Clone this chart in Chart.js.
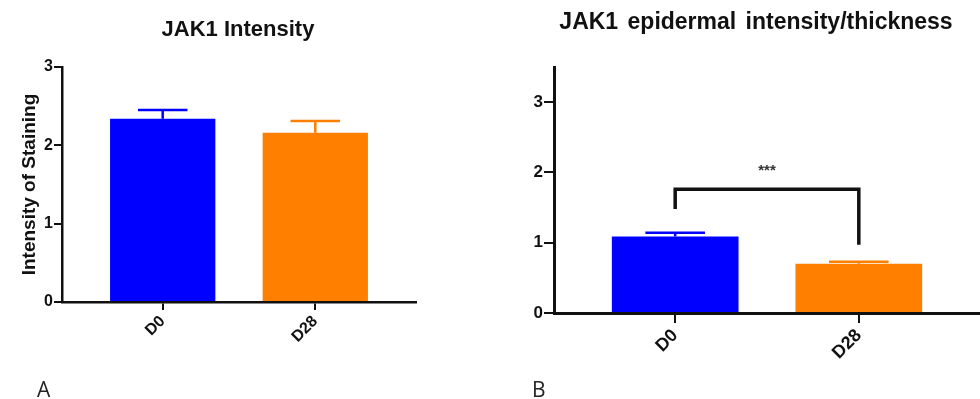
<!DOCTYPE html>
<html>
<head>
<meta charset="utf-8">
<script src="https://cdn.jsdelivr.net/npm/chart.js@4.4.1/dist/chart.umd.min.js"></script>
<style>
  html, body { margin: 0; padding: 0; background: #fff; }
  #wrap { position: relative; width: 980px; height: 399px; overflow: hidden; font-family: "Liberation Sans", Arial, sans-serif; }
  .panel { position: absolute; top: 0; width: 490px; height: 399px; }
  .title { position: absolute; font-weight: bold; color: #111; white-space: nowrap; transform: translateX(-50%); }
  .letter { position: absolute; font-family: "Open Sans", "Noto Sans", sans-serif; font-size: 21px; color: #222; }
</style>
</head>
<body>
<div id="wrap">
  <div class="panel" style="left:0"><canvas id="chartA" width="490" height="399"></canvas></div>
  <div class="panel" style="left:490px"><canvas id="chartB" width="490" height="399"></canvas></div>
  <div class="title" id="titleA" style="left:238px; top:16px; font-size:22px;">JAK1 Intensity</div>
  <div class="title" id="titleB" style="left:756px; top:8px; font-size:23px; word-spacing:3px;">JAK1 epidermal intensity/thickness</div>
  <div class="letter" style="left:37px; top:375px;">A</div>
  <div class="letter" style="left:532px; top:375px;">B</div>
</div>
<script>
// 数据
const categories = ['D0', 'D28'];
const barColors = ['#0000ff', '#ff8000'];

const intensityMeans = [2.34, 2.16];
const intensityErr = [0.11, 0.15];
const intensityTicks = [0, 1, 2, 3];

const ratioMeans = [1.09, 0.70];
const ratioErr = [0.05, 0.03];
const ratioTicks = [0, 1, 2, 3];

// 显著性标记 (B)
const sigLevel = 1.76;
const sigLegs = [1.48, 0.97];
const sigLabel = '***';
const sigLabelLevel = 2.02;

// 误差线插件
const errorBarPlugin = {
  id: 'errorBars',
  afterDatasetsDraw(chart, args, opts) {
    const ctx = chart.ctx;
    const meta = chart.getDatasetMeta(0);
    const y = chart.scales.y;
    ctx.save();
    meta.data.forEach((bar, i) => {
      const top = y.getPixelForValue(opts.means[i] + opts.errors[i]);
      const half = bar.width * opts.capRatio / 2;
      ctx.strokeStyle = opts.colors[i];
      ctx.lineWidth = opts.lineWidth;
      ctx.beginPath();
      ctx.moveTo(bar.x, bar.y);
      ctx.lineTo(bar.x, top);
      ctx.moveTo(bar.x - half, top);
      ctx.lineTo(bar.x + half, top);
      ctx.stroke();
    });
    ctx.restore();
  }
};

// 显著性括号插件
const bracketPlugin = {
  id: 'sigBracket',
  afterDatasetsDraw(chart, args, opts) {
    if (!opts || !opts.show) return;
    const ctx = chart.ctx;
    const x = chart.scales.x;
    const y = chart.scales.y;
    const x1 = x.getPixelForValue(1);
    const x2 = x.getPixelForValue(2);
    const yTop = y.getPixelForValue(opts.level);
    ctx.save();
    ctx.strokeStyle = '#111';
    ctx.lineWidth = 3.5;
    ctx.lineJoin = 'miter';
    ctx.beginPath();
    ctx.moveTo(x1, y.getPixelForValue(opts.legs[0]));
    ctx.lineTo(x1, yTop);
    ctx.lineTo(x2, yTop);
    ctx.lineTo(x2, y.getPixelForValue(opts.legs[1]));
    ctx.stroke();
    ctx.fillStyle = '#333';
    ctx.font = 'bold 15px "Liberation Sans", Arial, sans-serif';
    ctx.textAlign = 'center';
    ctx.textBaseline = 'middle';
    ctx.fillText(opts.label, (x1 + x2) / 2, y.getPixelForValue(opts.labelLevel));
    ctx.restore();
  }
};

function makeChart(canvasId, cfg) {
  const points = cfg.means.map((v, i) => ({ x: i + 1, y: v }));
  return new Chart(document.getElementById(canvasId), {
    type: 'bar',
    data: {
      datasets: [{
        data: points,
        backgroundColor: barColors,
        borderColor: barColors,
        borderWidth: 0,
        categoryPercentage: 1,
        barPercentage: 0.69
      }]
    },
    options: {
      responsive: false,
      animation: false,
      events: [],
      layout: { padding: cfg.padding },
      plugins: {
        legend: { display: false },
        tooltip: { enabled: false },
        errorBars: { means: cfg.means, errors: cfg.errors, colors: barColors, capRatio: 0.47, lineWidth: 2.5 },
        sigBracket: cfg.bracket || { show: false }
      },
      scales: {
        x: {
          type: 'linear',
          offset: false,
          min: 0.34,
          max: 2.66,
          afterBuildTicks: s => { s.ticks = categories.map((c, i) => ({ value: i + 1 })); },
          afterFit: s => { s.height = 60; },
          ticks: {
            callback: (v) => categories[Math.round(v) - 1],
            minRotation: 45,
            maxRotation: 45,
            padding: 2,
            color: '#111',
            font: { family: '"Liberation Sans", Arial, sans-serif', size: cfg.xFont, weight: 'bold' }
          },
          grid: { offset: false, drawOnChartArea: false, drawTicks: true, tickLength: cfg.tickLen, color: '#111', lineWidth: 2 },
          border: { display: true, color: '#111', width: cfg.axisWidth }
        },
        y: {
          min: 0,
          max: cfg.yMax,
          afterBuildTicks: s => { s.ticks = cfg.yTicks.map(v => ({ value: v })); },
          afterFit: s => { s.width = cfg.yWidth; },
          ticks: {
            padding: 1,
            color: '#111',
            font: { family: '"Liberation Sans", Arial, sans-serif', size: cfg.yFont, weight: 'bold' }
          },
          grid: { drawOnChartArea: false, drawTicks: true, tickLength: cfg.tickLen, color: '#111', lineWidth: 2 },
          border: { display: true, color: '#111', width: cfg.axisWidth },
          title: cfg.yTitle ? {
            display: true,
            text: cfg.yTitle,
            color: '#111',
            padding: { top: 18, bottom: 0 },
            font: { family: '"Liberation Sans", Arial, sans-serif', size: 19, weight: 'bold' }
          } : { display: false }
        }
      }
    },
    plugins: [errorBarPlugin, bracketPlugin]
  });
}

makeChart('chartA', {
  means: intensityMeans,
  errors: intensityErr,
  yTicks: intensityTicks,
  yMax: 3,
  yTitle: 'Intensity of Staining',
  yWidth: 62,
  padding: { left: 0, right: 74, top: 67, bottom: 37 },
  xFont: 16,
  yFont: 16,
  tickLen: 8,
  axisWidth: 2.5
});

makeChart('chartB', {
  means: ratioMeans,
  errors: ratioErr,
  yTicks: ratioTicks,
  yMax: 3.5,
  yTitle: null,
  yWidth: 64,
  padding: { left: 0, right: 0, top: 67, bottom: 26 },
  xFont: 18,
  yFont: 17,
  tickLen: 10,
  axisWidth: 3,
  bracket: { show: true, level: sigLevel, legs: sigLegs, label: sigLabel, labelLevel: sigLabelLevel }
});
</script>
</body>
</html>
